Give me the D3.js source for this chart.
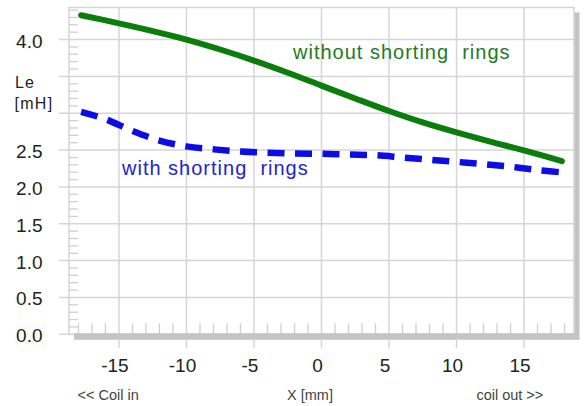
<!DOCTYPE html>
<html>
<head>
<meta charset="utf-8">
<script src="https://cdn.jsdelivr.net/npm/d3@7/dist/d3.min.js"></script>
<style>
  html, body { margin: 0; padding: 0; background: #fff; }
  svg { display: block; font-family: "Liberation Sans", Arial, Helvetica, sans-serif; }
</style>
</head>
<body>
<svg id="chart" width="585" height="406"></svg>
<script>
// Position along the coil (mm)
const xWithout = [-17.8, -15, -12.5, -10, -7.5, -5, -2.5, 0, 2.5, 5, 7.5, 10, 12.5, 15, 17.8];
// Inductance Le (mH) without shorting rings
const leWithout = [4.33, 4.22, 4.115, 4.00, 3.865, 3.715, 3.55, 3.375, 3.20, 3.03, 2.875, 2.74, 2.615, 2.495, 2.35];

const xWith = [-17.8, -16, -14, -12, -10, -8, -6, -4, -2, 0, 2, 4, 6, 8, 10, 12, 14, 16, 18.2];
// Inductance Le (mH) with shorting rings
const leWith = [3.02, 2.92, 2.76, 2.63, 2.55, 2.51, 2.48, 2.465, 2.455, 2.45, 2.44, 2.43, 2.40, 2.37, 2.34, 2.31, 2.275, 2.23, 2.19];

const xTicks = [-15, -10, -5, 0, 5, 10, 15];
const yTickLabels = [0, 0.5, 1.0, 1.5, 2.0, 2.5, 4.0];
const yGrid = [0.5, 1.0, 1.5, 2.0, 2.5, 3.0, 3.5, 4.0];

const svg = d3.select("#chart");
const plotLeft = 69, plotRight = 574, plotTop = 7.5, plotBottom = 334.3;

const x = d3.scaleLinear().domain([-18.7, 18.7]).range([plotLeft, plotRight]);
const y = d3.scaleLinear().domain([0, 4.435]).range([plotBottom, plotTop]);

const gridColor = "#d5d5d5";

// drop shadow behind the plot frame
svg.append("rect")
  .attr("x", plotLeft + 5).attr("y", plotTop + 5)
  .attr("width", plotRight - plotLeft + 0.5).attr("height", plotBottom - plotTop + 0.5)
  .attr("fill", "#c4c4c4");

// plot frame
svg.append("rect")
  .attr("x", plotLeft).attr("y", plotTop)
  .attr("width", plotRight - plotLeft).attr("height", plotBottom - plotTop)
  .attr("fill", "#fff").attr("stroke", gridColor).attr("stroke-width", 1.5);

// horizontal grid lines, reaching a little past the left edge
svg.append("g").selectAll("line").data(yGrid).join("line")
  .attr("x1", plotLeft - 10).attr("x2", plotRight)
  .attr("y1", d => y(d)).attr("y2", d => y(d))
  .attr("stroke", gridColor).attr("stroke-width", 1.5);
svg.append("line")
  .attr("x1", plotLeft - 10).attr("x2", plotLeft)
  .attr("y1", y(0)).attr("y2", y(0))
  .attr("stroke", gridColor).attr("stroke-width", 1.5);

// vertical grid lines, reaching below the bottom edge
svg.append("g").selectAll("line").data(xTicks).join("line")
  .attr("x1", d => x(d)).attr("x2", d => x(d))
  .attr("y1", plotTop).attr("y2", plotBottom + 14)
  .attr("stroke", gridColor).attr("stroke-width", 1.5);

// minor ticks: every 0.1 mH on the left, every 1 mm along the bottom
const yMinor = d3.range(1, 45).map(i => i / 10).filter(v => Math.abs(v * 2 - Math.round(v * 2)) > 1e-6);
svg.append("g").selectAll("line").data(yMinor).join("line")
  .attr("x1", plotLeft).attr("x2", plotLeft + 9)
  .attr("y1", d => y(d)).attr("y2", d => y(d))
  .attr("stroke", "#cfcfcf").attr("stroke-width", 1.3);
const xMinor = d3.range(-18, 19).filter(v => v % 5 !== 0);
svg.append("g").selectAll("line").data(xMinor).join("line")
  .attr("x1", d => x(d)).attr("x2", d => x(d))
  .attr("y1", plotBottom - 11).attr("y2", plotBottom)
  .attr("stroke", "#cfcfcf").attr("stroke-width", 1.3);

// bottom edge of the frame merges with its shadow
svg.append("rect")
  .attr("x", plotLeft + 5).attr("y", plotBottom - 1)
  .attr("width", plotRight - plotLeft).attr("height", 5.5)
  .attr("fill", "#c4c4c4");

// curves
const line = d3.line().curve(d3.curveCatmullRom.alpha(0.5));

svg.append("path")
  .attr("d", line(xWithout.map((v, i) => [x(v), y(leWithout[i])])))
  .attr("fill", "none").attr("stroke", "#0a7d0a").attr("stroke-width", 6)
  .attr("stroke-linecap", "round");

svg.append("path")
  .attr("d", line(xWith.map((v, i) => [x(v), y(leWith[i])])))
  .attr("fill", "none").attr("stroke", "#0c0ce6").attr("stroke-width", 6.5)
  .attr("stroke-dasharray", "17,10.5");

// curve labels
svg.append("text")
  .attr("x", 293).attr("y", 58.5)
  .attr("font-size", 20).attr("letter-spacing", 1)
  .attr("fill", "#237a23")
  .attr("xml:space", "preserve")
  .text("without shorting  rings");

svg.append("text")
  .attr("x", 122).attr("y", 174.5)
  .attr("font-size", 20).attr("letter-spacing", 1)
  .attr("fill", "#2323cf")
  .attr("xml:space", "preserve")
  .text("with shorting  rings");

// y tick labels
svg.append("g").selectAll("text").data(yTickLabels).join("text")
  .attr("x", 42.5).attr("y", d => y(d) + 8)
  .attr("text-anchor", "end")
  .attr("font-size", 19).attr("fill", "#222")
  .text(d => d3.format(".1f")(d));

// y axis title
svg.append("text").attr("x", 15).attr("y", 87.5)
  .attr("font-size", 16).attr("letter-spacing", 1).attr("fill", "#222").text("Le");
svg.append("text").attr("x", 14.5).attr("y", 108.5)
  .attr("font-size", 16).attr("letter-spacing", 1.3).attr("fill", "#222").text("[mH]");

// x tick labels
svg.append("g").selectAll("text").data(xTicks).join("text")
  .attr("x", d => x(d) - 4).attr("y", 371.5)
  .attr("text-anchor", "middle")
  .attr("font-size", 19).attr("fill", "#222")
  .text(d => d);

// x axis captions
const captions = [
  { pos: -15.8, text: "<< Coil in" },
  { pos: -0.85, text: "X [mm]" },
  { pos: 13.95, text: "coil out >>" }
];
svg.append("g").selectAll("text").data(captions).join("text")
  .attr("x", d => x(d.pos)).attr("y", 400)
  .attr("text-anchor", "middle")
  .attr("font-size", 14.5).attr("fill", "#444")
  .text(d => d.text);
</script>
</body>
</html>
